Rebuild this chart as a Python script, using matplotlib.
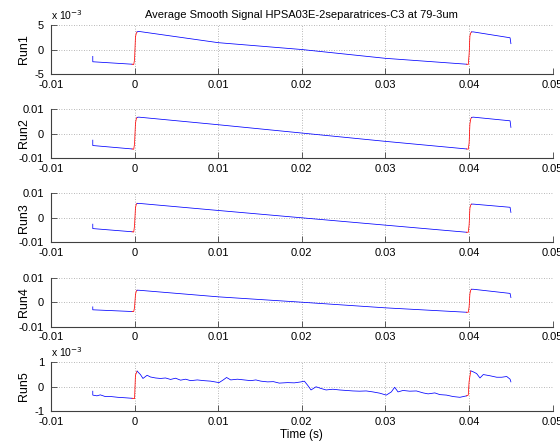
import numpy as np
import matplotlib
matplotlib.use("Agg")
import matplotlib.pyplot as plt

plt.rcParams['font.family'] = ['Liberation Sans', 'DejaVu Sans']
plt.rcParams['axes.unicode_minus'] = False

title = "Average Smooth Signal HPSA03E-2separatrices-C3 at 79-3um"
run_names = ["Run1", "Run2", "Run3", "Run4", "Run5"]
x_ticks = [-0.01, 0, 0.01, 0.02, 0.03, 0.04, 0.05]
x_ticklabels = ["-0.01", "0", "0.01", "0.02", "0.03", "0.04", "0.05"]

# runs 1-4 share the same breakpoints
t_step = [-0.005, -0.005, -0.0003, -0.0001, 0.0, 0.0001, 0.0002, 0.0003,
          0.0005, 0.01, 0.02, 0.03, 0.0397, 0.0399, 0.04, 0.0401, 0.0402,
          0.0403, 0.0405, 0.0449, 0.045]

# Run1 and Run5 values are in units of 1e-3
run1 = [-1.4, -2.5, -3.0, -3.05, -2.0, 2.5, 3.3, 3.6,
        3.7, 1.4, 0.0, -1.8, -3.0, -3.05, -1.0, 2.8, 3.4,
        3.6, 3.6, 2.4, 1.2]
run2 = [-0.0027, -0.0049, -0.0063, -0.0064, -0.004, 0.004, 0.006, 0.0066,
        0.0067, 0.0036, 0.0002, -0.0032, -0.0063, -0.0064, -0.004, 0.004, 0.006,
        0.0066, 0.0067, 0.0052, 0.0025]
run3 = [-0.0026, -0.0044, -0.0057, -0.0058, -0.003, 0.004, 0.0055, 0.0059,
        0.0059, 0.003, 0.0, -0.003, -0.0059, -0.0059, -0.003, 0.004, 0.0053,
        0.0056, 0.0056, 0.0043, 0.0022]
run4 = [-0.0019, -0.0031, -0.0038, -0.0038, -0.002, 0.003, 0.0045, 0.0049,
        0.0049, 0.0022, 0.0, -0.0023, -0.0041, -0.0041, -0.002, 0.0035, 0.005,
        0.0053, 0.0053, 0.0036, 0.0019]

t_run5 = [-0.005, -0.005, -0.0045, -0.0041, -0.0035, -0.0028, -0.002, -0.0011,
          -0.0003, 0.0, 0.0001, 0.0003, 0.0007, 0.001, 0.0015, 0.0019, 0.0025,
          0.0031, 0.0037, 0.0043, 0.0049, 0.0055, 0.0061, 0.0067, 0.0075,
          0.0083, 0.0091, 0.0101, 0.0106, 0.011, 0.0115, 0.0123, 0.0131,
          0.0139, 0.0145, 0.0151, 0.0159, 0.0166, 0.0173, 0.0183, 0.0191,
          0.0199, 0.0203, 0.0207, 0.0211, 0.0217, 0.0223, 0.0229, 0.0237,
          0.0245, 0.0253, 0.0261, 0.0269, 0.0277, 0.0285, 0.0293, 0.0301,
          0.0307, 0.0311, 0.0315, 0.0321, 0.0329, 0.0337, 0.0345, 0.0351,
          0.0359, 0.0365, 0.0373, 0.0381, 0.0389, 0.0397, 0.0399, 0.04,
          0.0402, 0.0405, 0.0409, 0.0413, 0.0417, 0.0425, 0.0433, 0.0439,
          0.0445, 0.0449, 0.045]
run5 = [-0.19, -0.35, -0.38, -0.34, -0.41, -0.41, -0.44, -0.46,
        -0.48, -0.49, 0.46, 0.63, 0.49, 0.33, 0.46, 0.39, 0.35,
        0.33, 0.35, 0.29, 0.34, 0.26, 0.3, 0.24, 0.27,
        0.24, 0.22, 0.16, 0.27, 0.37, 0.27, 0.3, 0.27,
        0.24, 0.27, 0.22, 0.19, 0.2, 0.14, 0.16, 0.15,
        0.19, 0.22, 0.05, -0.14, -0.01, -0.08, -0.14, -0.11,
        -0.14, -0.16, -0.18, -0.19, -0.18, -0.22, -0.27, -0.35,
        -0.22, -0.03, -0.22, -0.16, -0.19, -0.18, -0.26, -0.3,
        -0.26, -0.33, -0.35, -0.41, -0.44, -0.38, -0.35, 0.2,
        0.64, 0.6, 0.53, 0.35, 0.49, 0.44, 0.38, 0.38,
        0.41, 0.3, 0.19]

series = [
    (t_step, np.array(run1) * 1e-3, 0.005, "5", True),
    (t_step, np.array(run2), 0.01, "0.01", False),
    (t_step, np.array(run3), 0.01, "0.01", False),
    (t_step, np.array(run4), 0.01, "0.01", False),
    (t_run5, np.array(run5) * 1e-3, 0.001, "1", True),
]

bottoms = [0.8322, 0.6417, 0.4506, 0.2592, 0.0680]


def draw(ax, t, v):
    t = np.asarray(t)
    v = np.asarray(v)
    mid = (t[1:] + t[:-1]) / 2
    red = ((mid > -0.0003) & (mid < 0.0003)) | ((mid > 0.0397) & (mid < 0.0403))
    start = 0
    for i in range(1, len(mid) + 1):
        if i == len(mid) or red[i] != red[start]:
            ax.plot(t[start:i + 1], v[start:i + 1],
                    color='r' if red[start] else 'b', lw=0.55)
            start = i


fig = plt.figure(figsize=(5.6, 4.41), dpi=100)
for k, (t, v, lim, lab, scaled) in enumerate(series):
    ax = fig.add_axes([0.091, bottoms[k], 0.896, 0.111])
    draw(ax, t, v)
    ax.set_xlim(-0.01, 0.05)
    ax.set_ylim(-lim, lim)
    ax.set_xticks(x_ticks)
    ax.set_xticklabels(x_ticklabels)
    ax.set_yticks([-lim, 0, lim])
    ax.set_yticklabels(["-" + lab, "0", lab])
    ax.grid(True, linestyle=(0, (1, 2)), color='#a0a0a0', lw=0.6)
    for s in ['top', 'right']:
        ax.spines[s].set_visible(False)
    for s in ['left', 'bottom']:
        ax.spines[s].set_color('#404040')
        ax.spines[s].set_linewidth(0.8)
    ax.tick_params(direction='in', length=4, width=0.6, labelsize=8,
                   color='#404040')
    ax.tick_params(axis='x', pad=4)
    ax.tick_params(axis='y', pad=5)
    ax.set_ylabel(run_names[k], fontsize=9)
    ax.yaxis.set_label_coords(-0.042, 0.5)
    if scaled:
        ax.text(0.0, 1.06, "x 10$^{-3}$", transform=ax.transAxes,
                fontsize=7.5, va='bottom', ha='left')
    if k == 0:
        ax.set_title(title, fontsize=8, pad=5)
    if k == 4:
        ax.set_xlabel("Time (s)", fontsize=8.5, labelpad=2)

fig.savefig("out.png", dpi=100)
